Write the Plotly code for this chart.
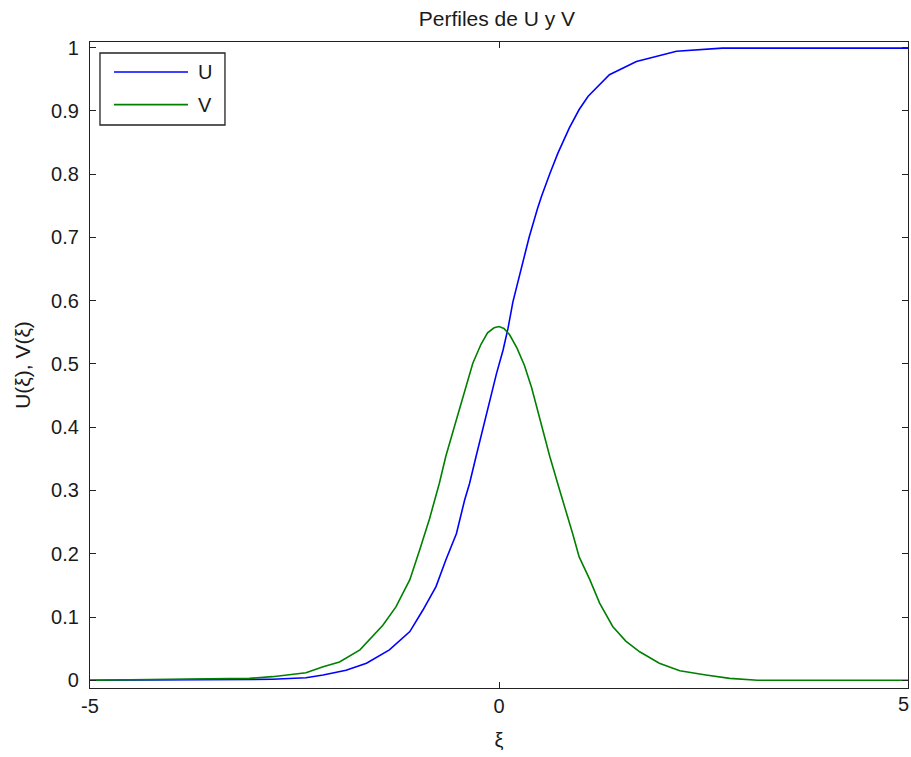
import plotly.graph_objects as go

# Perfiles U(ξ) y V(ξ)
xi_u = [-5.0, -3.2, -2.77, -2.36, -2.15, -1.87, -1.62, -1.34, -1.09, -0.93,
        -0.77, -0.65, -0.52, -0.42, -0.36, -0.28, -0.20, -0.12, -0.03, 0.05,
        0.11, 0.17, 0.27, 0.37, 0.47, 0.52, 0.62, 0.72, 0.86, 0.98,
        1.09, 1.35, 1.68, 2.17, 2.73, 5.0]
u_vals = [0.0, 0.001, 0.0016, 0.004, 0.0084, 0.016, 0.027, 0.048, 0.077, 0.111,
          0.148, 0.19, 0.232, 0.285, 0.311, 0.354, 0.396, 0.438, 0.485, 0.522,
          0.556, 0.598, 0.649, 0.701, 0.745, 0.765, 0.80, 0.833, 0.873, 0.902,
          0.923, 0.957, 0.978, 0.994, 0.999, 0.999]

xi_v = [-5.0, -3.05, -2.77, -2.56, -2.36, -2.15, -1.95, -1.70, -1.42, -1.26,
        -1.09, -0.97, -0.85, -0.73, -0.65, -0.52, -0.44, -0.32, -0.22, -0.14,
        -0.06, 0.0, 0.06, 0.13, 0.22, 0.31, 0.40, 0.50, 0.62, 0.74,
        0.84, 0.90, 0.98, 1.11, 1.23, 1.39, 1.55, 1.72, 1.96, 2.21,
        2.53, 2.82, 3.16, 5.0]
v_vals = [0.0, 0.003, 0.0057, 0.0095, 0.012, 0.0215, 0.029, 0.048, 0.087, 0.116,
          0.159, 0.206, 0.255, 0.311, 0.354, 0.412, 0.447, 0.501, 0.531, 0.549,
          0.557, 0.559, 0.556, 0.546, 0.525, 0.498, 0.462, 0.412, 0.354, 0.301,
          0.259, 0.232, 0.195, 0.159, 0.122, 0.085, 0.062, 0.045, 0.027, 0.015,
          0.0084, 0.003, 0.0, 0.0]

x_ticks = [-5, 0, 5]
x_ticktext = ["-5", "0", "5"]
y_ticks = [0, 0.1, 0.2, 0.3, 0.4, 0.5, 0.6, 0.7, 0.8, 0.9, 1]
y_ticktext = ["0", "0.1", "0.2", "0.3", "0.4", "0.5", "0.6", "0.7", "0.8", "0.9", "1"]

series_names = ["U", "V"]
series_colors = ["#0000ff", "#008000"]

FONT = "Liberation Sans, Arial, sans-serif"
TXT = "#1a1a1a"
FS = 20

fig = go.Figure()
fig.add_trace(go.Scatter(x=xi_u, y=u_vals, mode="lines", name=series_names[0],
                         line=dict(color=series_colors[0], width=1.6),
                         showlegend=False))
fig.add_trace(go.Scatter(x=xi_v, y=v_vals, mode="lines", name=series_names[1],
                         line=dict(color=series_colors[1], width=1.6),
                         showlegend=False))

axis_common = dict(showline=True, linecolor="#222222", linewidth=1.3,
                   mirror="ticks", ticks="inside", ticklen=6, tickwidth=1.3,
                   tickcolor="#222222", showgrid=False, zeroline=False,
                   automargin=False,
                   tickfont=dict(family=FONT, size=FS, color=TXT))

# the last x tick label sits flush with the right edge, so it is placed as
# a right-anchored annotation instead of a centred tick label
shown_xticktext = x_ticktext[:-1] + [""]

fig.update_xaxes(range=[-5, 5], tickmode="array", tickvals=x_ticks,
                 ticktext=shown_xticktext,
                 title=dict(text="ξ", font=dict(family=FONT, size=FS, color=TXT),
                            standoff=16),
                 **axis_common)
fig.update_yaxes(range=[-0.0122, 1.0087], tickmode="array", tickvals=y_ticks,
                 ticktext=y_ticktext, ticklabelstandoff=6,
                 title=dict(text="U(ξ), V(ξ)", font=dict(family=FONT, size=21, color=TXT),
                            standoff=14),
                 **axis_common)

# legend box drawn in paper coordinates
lx0, lx1, ly0, ly1 = 0.0122, 0.165, 0.8715, 0.983
shapes = [dict(type="rect", xref="paper", yref="paper", x0=lx0, x1=lx1, y0=ly0, y1=ly1,
               line=dict(color="#222222", width=1.3), fillcolor="white", layer="above")]
annotations = []
for name, color, yy in zip(series_names, series_colors, [0.9536, 0.903]):
    shapes.append(dict(type="line", xref="paper", yref="paper", x0=0.0293, x1=0.1198,
                       y0=yy, y1=yy, line=dict(color=color, width=1.6), layer="above"))
    annotations.append(dict(xref="paper", yref="paper", x=0.1296, y=yy, text=name,
                            showarrow=False, xanchor="left", yanchor="middle",
                            font=dict(family=FONT, size=FS, color=TXT)))

annotations.append(dict(xref="x", yref="paper", x=x_ticks[-1], y=0, text=x_ticktext[-1],
                        showarrow=False, xanchor="right", yanchor="top",
                        xshift=3, yshift=-3,
                        font=dict(family=FONT, size=FS, color=TXT)))

fig.update_layout(
    width=911, height=757,
    margin=dict(l=90, r=3, t=42, b=69, autoexpand=False),
    paper_bgcolor="white", plot_bgcolor="white",
    title=dict(text="Perfiles de U y V", x=0.5455, xanchor="center", y=0.976, yanchor="middle",
               font=dict(family=FONT, size=21, color=TXT)),
    shapes=shapes, annotations=annotations,
    showlegend=False,
)

fig.write_html("out.html")
